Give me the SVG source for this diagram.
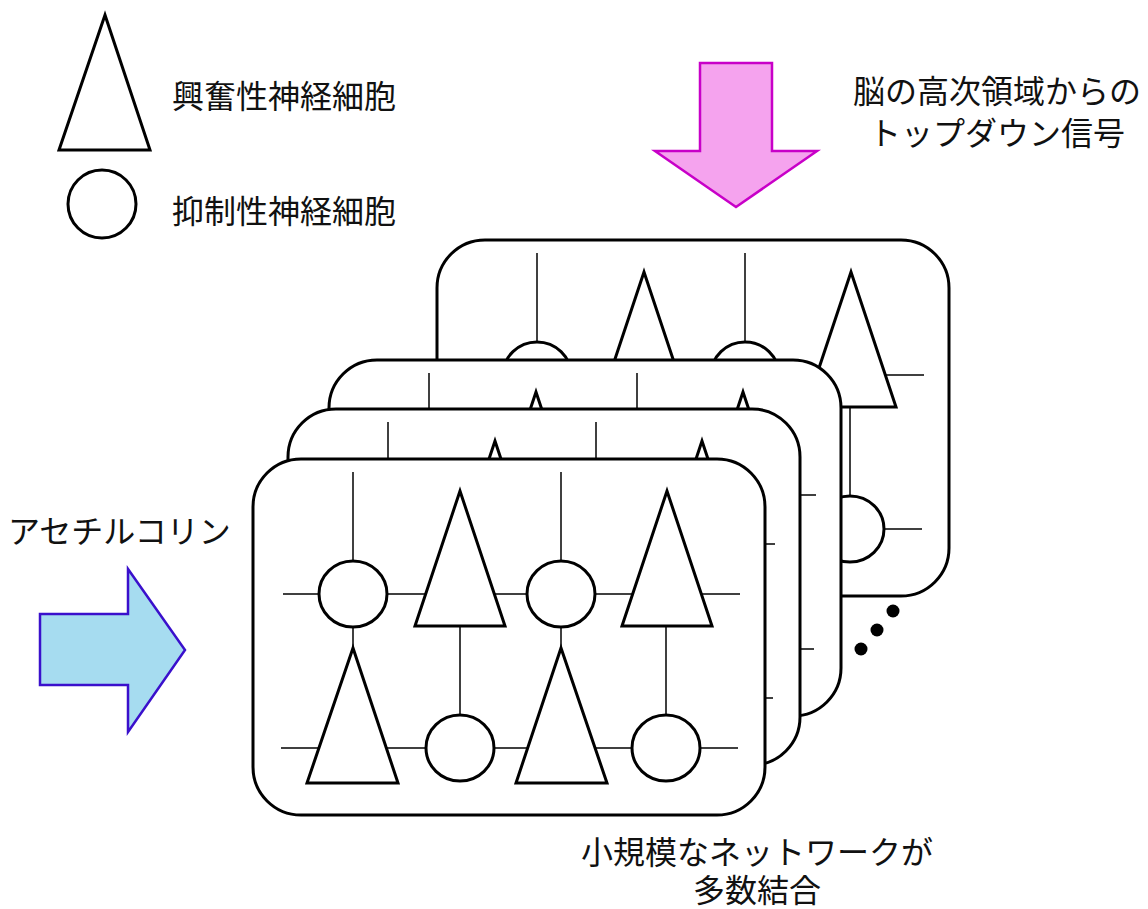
<svg xmlns="http://www.w3.org/2000/svg" xmlns:xlink="http://www.w3.org/1999/xlink" width="1148" height="909" viewBox="0 0 1148 909">
<style>
  .lbl{font-family:"Noto Sans CJK JP","Noto Sans CJK SC",sans-serif;font-size:32px;fill:#111}
  .card{fill:#fff;stroke:#000;stroke-width:3}
  .cell{fill:#fff;stroke:#000;stroke-width:3;stroke-linejoin:miter}
  .wire{stroke:#000;stroke-width:1.5;fill:none}
</style>
<defs>
  <g id="net">
    <rect class="card" x="0" y="0" width="512" height="356" rx="48" ry="48"/>
    <g class="wire">
      <line x1="30" y1="135" x2="487" y2="135"/>
      <line x1="28" y1="289" x2="485" y2="289"/>
      <line x1="100" y1="13" x2="100" y2="102"/>
      <line x1="308" y1="13" x2="308" y2="102"/>
      <line x1="100" y1="168" x2="100" y2="190"/>
      <line x1="308" y1="168" x2="308" y2="190"/>
      <line x1="207" y1="167" x2="207" y2="256"/>
      <line x1="413" y1="167" x2="413" y2="256"/>
    </g>
    <polygon class="cell" points="207,32 162,167 252,167"/>
    <polygon class="cell" points="414,32 369,167 459,167"/>
    <polygon class="cell" points="100,189 54,324 145,324"/>
    <polygon class="cell" points="308,189 263,324 354,324"/>
    <ellipse class="cell" cx="100" cy="135" rx="34" ry="33"/>
    <ellipse class="cell" cx="308" cy="135" rx="34" ry="33"/>
    <ellipse class="cell" cx="207" cy="289" rx="34" ry="33"/>
    <ellipse class="cell" cx="413" cy="289" rx="34" ry="33"/>
  </g>
</defs>

<g id="legend-excitatory">
  <polygon class="cell" points="105,15 59,150 150,150"/>
  <text class="lbl" x="172" y="108">興奮性神経細胞</text>
</g>
<g id="legend-inhibitory">
  <circle class="cell" cx="102" cy="204" r="34"/>
  <text class="lbl" x="172" y="223">抑制性神経細胞</text>
</g>

<g id="topdown-arrow">
  <polygon points="700,63 772,63 772,151 817,151 736,207 655,151 700,151" fill="#f5a3ee" stroke="#c800c8" stroke-width="2.5" stroke-linejoin="miter"/>
  <text class="lbl" x="997" y="103" text-anchor="middle">脳の高次領域からの</text>
  <text class="lbl" x="997" y="145" text-anchor="middle">トップダウン信号</text>
</g>

<g id="ach-arrow">
  <polygon points="40,614 128,614 128,569 185,650 128,732 128,685 40,685" fill="#a6dcf0" stroke="#3a10cc" stroke-width="2.5" stroke-linejoin="miter"/>
  <text class="lbl" x="8" y="543">アセチルコリン</text>
</g>

<g id="network-4"><use xlink:href="#net" x="437" y="240"/></g>
<g id="network-3"><use xlink:href="#net" x="329" y="360"/></g>
<g id="network-2"><use xlink:href="#net" x="288" y="409"/></g>
<g id="network-1"><use xlink:href="#net" x="253" y="459"/></g>

<g id="ellipsis">
  <circle cx="861" cy="649" r="6.5" fill="#000"/>
  <circle cx="877" cy="630" r="6.5" fill="#000"/>
  <circle cx="893" cy="611" r="6.5" fill="#000"/>
</g>

<g id="caption">
  <text class="lbl" x="757" y="864" text-anchor="middle">小規模なネットワークが</text>
  <text class="lbl" x="757" y="902" text-anchor="middle">多数結合</text>
</g>
</svg>
